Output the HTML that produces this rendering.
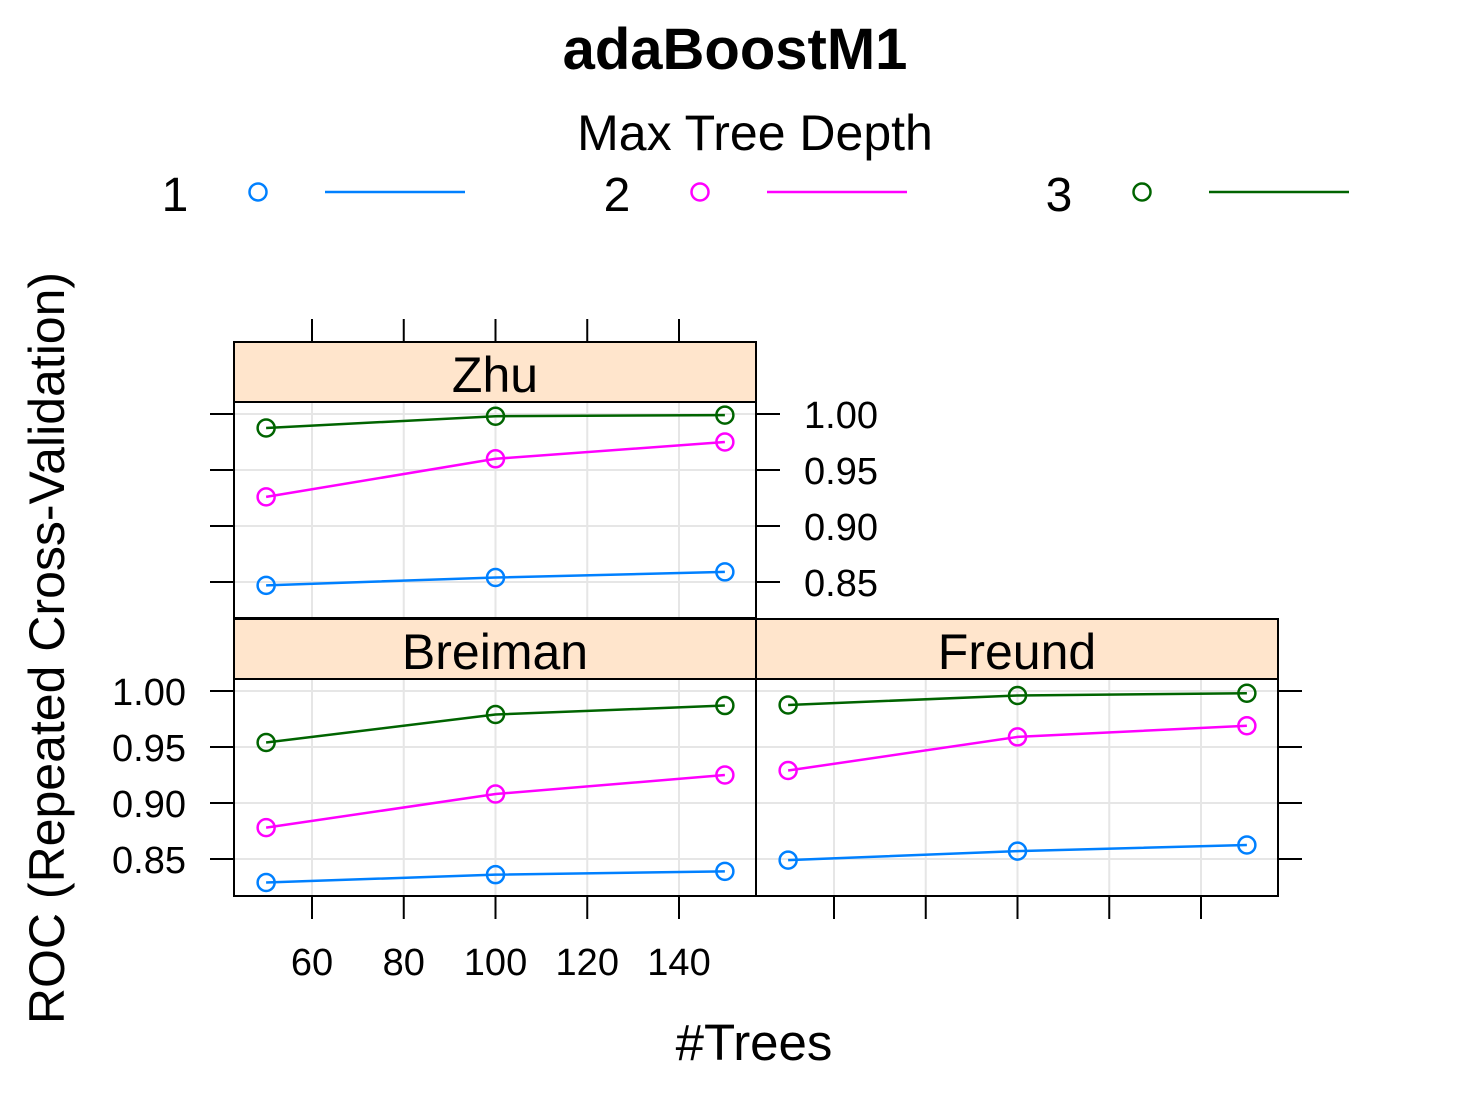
<!DOCTYPE html>
<html><head><meta charset="utf-8"><style>
body{margin:0;background:#fff}
svg text{font-family:"Liberation Sans",Arial,sans-serif}
</style></head><body>
<svg id="c" width="1476" height="1110" xmlns="http://www.w3.org/2000/svg">
<text x="735" y="69" font-size="58" font-weight="bold" text-anchor="middle">adaBoostM1</text>
<text x="755" y="150" font-size="50" text-anchor="middle">Max Tree Depth</text>
<g id="legend"></g>
<g id="panels"></g>
<text transform="translate(64,648) rotate(-90)" font-size="50" text-anchor="middle">ROC (Repeated Cross-Validation)</text>
<text x="754" y="1060" font-size="51" text-anchor="middle">#Trees</text>
</svg>
<script>
const trees=[50,100,150];
const depths=["1","2","3"];
const colors=["#0080ff","#ff00ff","#006400"];
const zhuD1=[0.847,0.854,0.859], zhuD2=[0.926,0.960,0.975], zhuD3=[0.9875,0.998,0.999];
const breD1=[0.829,0.836,0.839], breD2=[0.878,0.908,0.925], breD3=[0.954,0.979,0.987];
const freD1=[0.849,0.857,0.8625], freD2=[0.929,0.959,0.969], freD3=[0.9875,0.996,0.998];
const xTicks=[60,80,100,120,140];
const yTicks=[0.85,0.90,0.95,1.00];
const yTickLabels=["0.85","0.90","0.95","1.00"];
const NS="http://www.w3.org/2000/svg";
const svg=document.getElementById('c');
function mk(tag,attrs,parent){const e=document.createElementNS(NS,tag);for(const k in attrs)e.setAttribute(k,attrs[k]);(parent||svg).appendChild(e);return e;}
const lg=document.getElementById('legend');
depths.forEach((d,i)=>{const ox=i*442;
 const t=mk('text',{x:175+ox,y:211,'font-size':48,'text-anchor':'middle'},lg);t.textContent=d;
 
 
 const c=mk('circle',{cx:258+ox,cy:192,r:8.5,fill:'none',stroke:colors[i],'stroke-width':2.5},lg);
 
 
 const l=mk('line',{x1:325+ox,x2:465+ox,y1:192,y2:192,stroke:colors[i],'stroke-width':2.5},lg);
 
 
});
const xs=v=>312+(v-60)*(679-312)/80;
const panels=[
 {name:'Zhu',x0:234,sy:342,py:402,pb:618,y1:414,series:[zhuD1,zhuD2,zhuD3],top:true,right:true,rightLab:true,left:true},
 {name:'Breiman',x0:234,sy:619,py:679,pb:896,y1:691,series:[breD1,breD2,breD3],left:true,leftLab:true,bottom:true,bottomLab:true},
 {name:'Freund',x0:756,sy:619,py:679,pb:896,y1:691,series:[freD1,freD2,freD3],right:true,bottom:true}
];
const pg=document.getElementById('panels');
panels.forEach(p=>{
 const g=mk('g',{},pg);
 
 
 const W=522, dx=p.x0-234;
 const X=v=>xs(v)+dx;
 const Y=v=>p.y1+(1-v)*1120;
 xTicks.forEach(t=>mk('line',{x1:X(t),x2:X(t),y1:p.py,y2:p.pb,stroke:'#e6e6e6','stroke-width':2},g));
 yTicks.forEach(t=>mk('line',{x1:p.x0,x2:p.x0+W,y1:Y(t),y2:Y(t),stroke:'#e6e6e6','stroke-width':2},g));
 const s=mk('rect',{x:p.x0,y:p.sy,width:W,height:p.py-p.sy,fill:'#ffe5cc',stroke:'#000','stroke-width':2},g);
 
 
 const st=mk('text',{x:p.x0+W/2,y:p.sy+50,'font-size':50,'text-anchor':'middle'},g);st.textContent=p.name;
 mk('rect',{x:p.x0,y:p.py,width:W,height:p.pb-p.py,fill:'none',stroke:'#000','stroke-width':2},g);
 xTicks.forEach(t=>{
  if(p.top)mk('line',{x1:X(t),x2:X(t),y1:p.sy,y2:p.sy-23,stroke:'#000','stroke-width':2},g);
  if(p.bottom)mk('line',{x1:X(t),x2:X(t),y1:p.pb,y2:p.pb+23,stroke:'#000','stroke-width':2},g);
  if(p.bottomLab){const tt=mk('text',{x:X(t),y:p.pb+79,'font-size':38,'text-anchor':'middle'},g);tt.textContent=t;}
 });
 yTicks.forEach((t,i)=>{
  if(p.left)mk('line',{x1:p.x0,x2:p.x0-24,y1:Y(t),y2:Y(t),stroke:'#000','stroke-width':2},g);
  if(p.right)mk('line',{x1:p.x0+W,x2:p.x0+W+24,y1:Y(t),y2:Y(t),stroke:'#000','stroke-width':2},g);
  if(p.leftLab){const tt=mk('text',{x:186,y:Y(t)+14,'font-size':38,'text-anchor':'end'},g);tt.textContent=yTickLabels[i];}
  if(p.rightLab){const tt=mk('text',{x:804,y:Y(t)+14,'font-size':38},g);tt.textContent=yTickLabels[i];}
 });
 p.series.forEach((vals,si)=>{
  const pts=trees.map((t,j)=>X(t)+','+Y(vals[j])).join(' ');
  const l=mk('polyline',{points:pts,fill:'none',stroke:colors[si],'stroke-width':2.5},g);
  
  
  trees.forEach((t,j)=>{
   const c=mk('circle',{cx:X(t),cy:Y(vals[j]),r:8.5,fill:'none',stroke:colors[si],'stroke-width':2.5},g);
   
   
  });
 });
});
</script>
</body></html>
